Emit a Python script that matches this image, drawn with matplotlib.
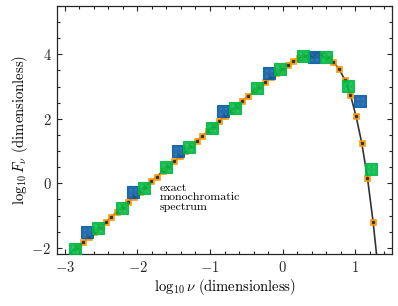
import numpy as np
import matplotlib
matplotlib.use("Agg")
import matplotlib.pyplot as plt
from matplotlib.path import Path
from matplotlib.ticker import MultipleLocator, FuncFormatter

plt.rcParams['mathtext.fontset'] = 'cm'
plt.rcParams['font.family'] = 'serif'
plt.rcParams['font.serif'] = ['cmr10', 'DejaVu Serif']
plt.rcParams['axes.formatter.use_mathtext'] = True

# exact spectrum samples (orange points and line)
x_exact = [-2.832, -2.7535, -2.675, -2.5965, -2.518, -2.4395, -2.361, -2.2825,
           -2.204, -2.1255, -2.047, -1.9685, -1.89, -1.8115, -1.733, -1.6545,
           -1.576, -1.4975, -1.419, -1.3405, -1.262, -1.1835, -1.105, -1.0265,
           -0.948, -0.8695, -0.791, -0.7125, -0.634, -0.5555, -0.477, -0.3985,
           -0.32, -0.2415, -0.163, -0.0845, -0.006, 0.0725, 0.151, 0.2295,
           0.308, 0.3865, 0.465, 0.5435, 0.622, 0.7005, 0.779, 0.8575,
           0.936, 1.0145, 1.093, 1.1715, 1.25]
y_exact = [-1.98, -1.83, -1.67, -1.51, -1.36, -1.20, -1.04, -0.88,
           -0.73, -0.57, -0.41, -0.26, -0.10, 0.06, 0.21, 0.37,
           0.53, 0.68, 0.84, 1.00, 1.16, 1.31, 1.47, 1.62,
           1.78, 1.94, 2.09, 2.24, 2.40, 2.55, 2.70, 2.85,
           3.00, 3.15, 3.29, 3.43, 3.56, 3.68, 3.79, 3.88,
           3.95, 3.99, 4.00, 3.97, 3.89, 3.77, 3.55, 3.22,
           2.75, 2.08, 1.25, 0.17, -1.21]
# continuation of the exact curve below the plotted range
x_tail = [-3.0, 1.33]
y_tail = [-2.32, -2.9]

# coarse bins (blue)
x_blue = [-2.69, -2.06, -1.44, -0.82, -0.19, 0.44, 1.07]
y_blue = [-1.50, -0.27, 0.99, 2.23, 3.42, 3.93, 2.54]

# finer bins (green)
x_green = [-2.855, -2.54, -2.22, -1.91, -1.60, -1.29, -0.97, -0.66,
           -0.345, -0.037, 0.285, 0.60, 0.91, 1.22]
y_green = [-2.02, -1.39, -0.76, -0.14, 0.50, 1.13, 1.73, 2.35,
           2.97, 3.54, 3.96, 3.93, 3.02, 0.46]

BLUE = '#0C5DA5'
GREEN = '#00B945'
ORANGE = '#FF9500'

# marker made of four small dots
d = 0.08
verts, codes = [], []
for cx in (-0.4, 0.4):
    for cy in (-0.4, 0.4):
        verts += [(cx - d, cy - d), (cx + d, cy - d), (cx + d, cy + d), (cx - d, cy + d), (0, 0)]
        codes += [Path.MOVETO, Path.LINETO, Path.LINETO, Path.LINETO, Path.CLOSEPOLY]
dots = Path(verts, codes)

fig = plt.figure(figsize=(3.98, 3.06), dpi=100)
ax = fig.add_axes([57/398, 1 - 254/306, (392 - 57)/398, (254 - 6)/306])

xl = [x_tail[0]] + x_exact + [x_tail[1]]
yl = [y_tail[0]] + y_exact + [y_tail[1]]
ax.plot(xl, yl, color='0.2', lw=1.2, zorder=1)
ax.plot(x_exact, y_exact, ls='none', marker='s', ms=4.8, mfc=ORANGE, mec=ORANGE,
        mew=0.5, alpha=0.9, zorder=2)
ax.plot(x_exact, y_exact, ls='none', marker='s', ms=1.3, color='0.2', zorder=2.1)

for xs, ys, c in ((x_blue, y_blue, BLUE), (x_green, y_green, GREEN)):
    ax.plot(xs, ys, ls='none', marker='s', ms=8.3, mfc=c, mec=c, mew=0.8,
            alpha=0.9, zorder=3)
    ax.plot(xs, ys, ls='none', marker=dots, ms=4.8, mfc='white', mec='none',
            alpha=0.4, zorder=3.1)

ax.text(-1.7, 0.0, 'exact\nmonochromatic\nspectrum', fontsize=8.6,
        family='cmr10', va='top', ha='left', linespacing=0.98)

ax.set_xlim(-3.11, 1.51)
ax.set_ylim(-2.19, 5.5)
ax.xaxis.set_major_locator(MultipleLocator(1))
ax.xaxis.set_minor_locator(MultipleLocator(0.2))
ax.yaxis.set_major_locator(MultipleLocator(2))
ax.yaxis.set_minor_locator(MultipleLocator(0.5))
fmt = FuncFormatter(lambda v, p: r'$%d$' % round(v))
ax.xaxis.set_major_formatter(fmt)
ax.yaxis.set_major_formatter(fmt)
ax.tick_params(which='both', direction='in', top=True, right=True, labelsize=10.5,
               width=0.8, colors='0.15')
ax.tick_params(which='major', length=3.6, pad=4)
ax.tick_params(which='minor', length=2.0)
for s in ax.spines.values():
    s.set_linewidth(0.9)
    s.set_color('0.15')

ax.set_xlabel(r'$\log_{10}\nu\ \mathrm{(dimensionless)}$', fontsize=10.5, labelpad=2)
ax.set_ylabel(r'$\log_{10}F_{\nu}\ \mathrm{(dimensionless)}$', fontsize=10.5, labelpad=1)

fig.savefig('out.png', dpi=100)
